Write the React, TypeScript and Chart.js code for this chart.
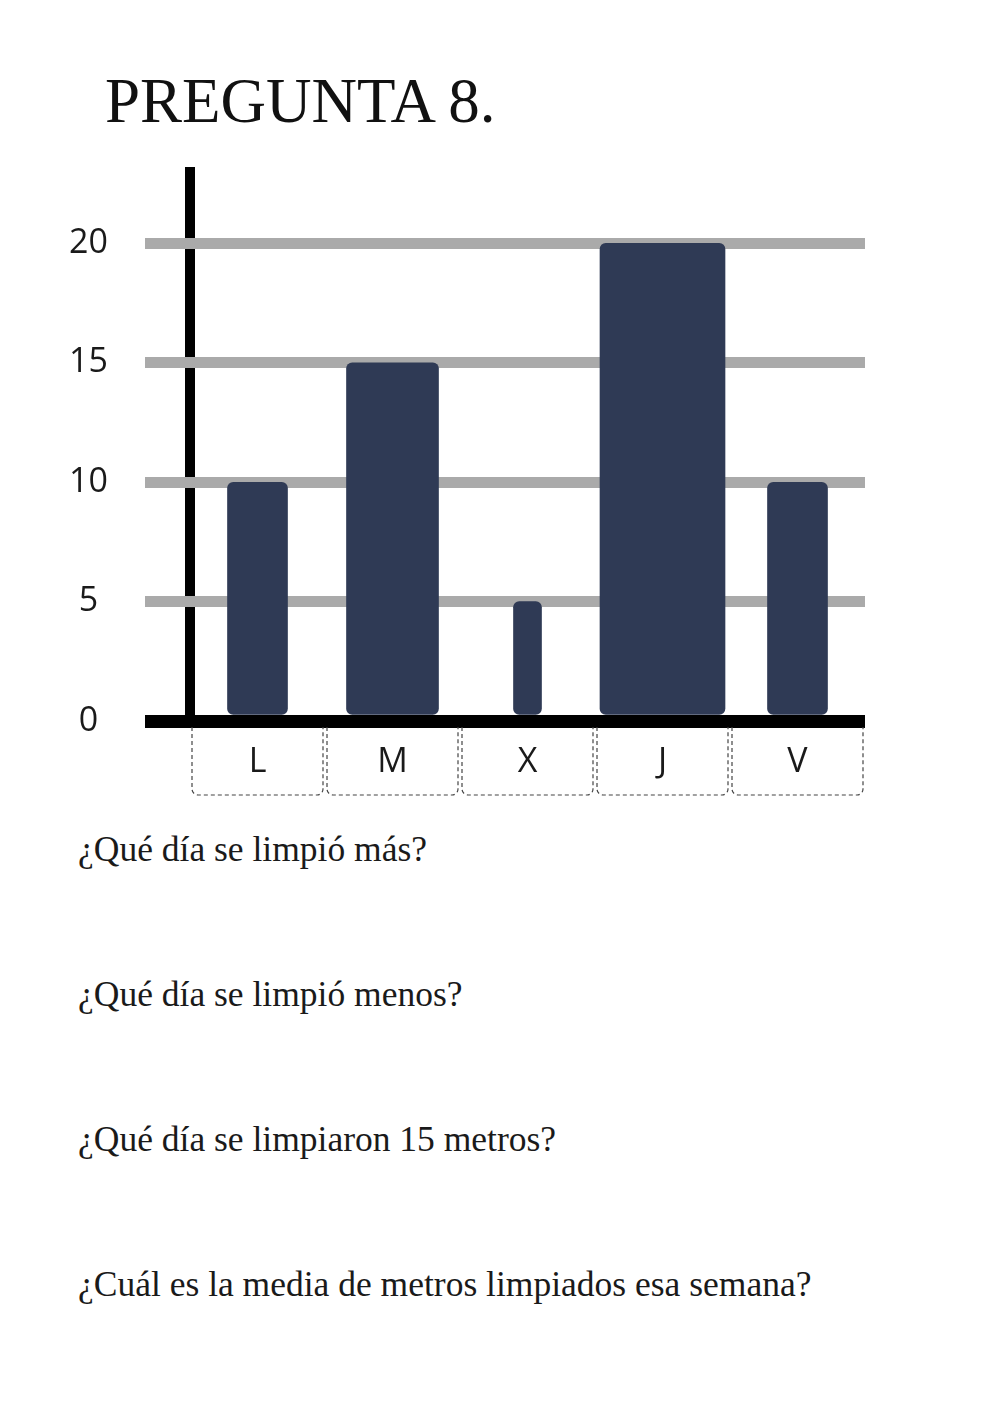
import React, { useEffect, useRef } from 'react';
import { Chart, registerables } from 'chart.js';

Chart.register(...registerables);

// chart data
const DAYS = ['L', 'M', 'X', 'J', 'V'];
const METERS = [10, 15, 5, 20, 10];
const Y_TICKS = [0, 5, 10, 15, 20];

const QUESTIONS = [
  '¿Qué día se limpió más?',
  '¿Qué día se limpió menos?',
  '¿Qué día se limpiaron 15 metros?',
  '¿Cuál es la media de metros limpiados esa semana?',
];

// styling
const NAVY = '#2f3a55';
const GRID_GRAY = '#aaaaaa';
const BAR_WIDTHS = [60, 92, 28, 125, 60]; // the bars are drawn at uneven widths
const SERIF = '"Liberation Serif", "DejaVu Serif", serif';

// dashed boxes under each day label
const dashedBoxes = {
  id: 'dashedBoxes',
  afterDraw(chart: Chart) {
    const { ctx, chartArea } = chart;
    const x = chart.scales.x;
    const n = x.ticks.length;
    const w = (chartArea.right - chartArea.left) / n;
    const top = chartArea.bottom + 6;
    const bottom = chartArea.bottom + 74;
    const r = 6;
    ctx.save();
    ctx.setLineDash([4, 3]);
    ctx.lineWidth = 1.2;
    ctx.strokeStyle = '#444';
    for (let i = 0; i < n; i++) {
      const cx = x.getPixelForValue(i);
      const l = cx - w / 2 + 2;
      const rr = cx + w / 2 - 2;
      ctx.beginPath();
      ctx.moveTo(l, top);
      ctx.lineTo(l, bottom - r);
      ctx.arcTo(l, bottom, l + r, bottom, r);
      ctx.lineTo(rr - r, bottom);
      ctx.arcTo(rr, bottom, rr, bottom - r, r);
      ctx.lineTo(rr, top);
      ctx.stroke();
    }
    ctx.restore();
  },
};

const MetersChart: React.FC = () => {
  const canvasRef = useRef<HTMLCanvasElement>(null);

  useEffect(() => {
    if (!canvasRef.current) return;

    const datasets = DAYS.map((day, i) => ({
      label: day,
      data: METERS.map((v, j) => (j === i ? v : null)),
      backgroundColor: NAVY,
      borderRadius: 6,
      borderSkipped: false,
      barThickness: BAR_WIDTHS[i],
      grouped: false,
    }));

    const chart = new Chart(canvasRef.current, {
      type: 'bar',
      data: { labels: DAYS, datasets },
      options: {
        animation: false,
        responsive: true,
        maintainAspectRatio: false,
        layout: { padding: { left: 60, right: 135, top: 67, bottom: 0 } },
        plugins: {
          legend: { display: false },
          tooltip: { enabled: false },
        },
        scales: {
          x: {
            type: 'category',
            afterFit: (scale: any) => {
              scale.height = 99;
            },
            border: { display: false },
            grid: {
              offset: true,
              z: -2,
              drawTicks: false,
              lineWidth: 10,
              color: (ctx: any) => (ctx.type === 'tick' && ctx.index === 0 ? '#000' : 'rgba(0,0,0,0)'),
            },
            ticks: {
              autoSkip: false,
              maxRotation: 0,
              padding: 21,
              color: '#1a1a1a',
              font: { family: '"Open Sans"', size: 34 },
            },
          },
          y: {
            min: 0,
            max: 23.2,
            afterFit: (scale: any) => {
              scale.width = 130;
            },
            afterBuildTicks: (scale: any) => {
              scale.ticks = Y_TICKS.map(value => ({ value }));
            },
            border: { display: false },
            grid: {
              z: -1,
              tickLength: 45,
              color: (ctx: any) => (ctx.tick && ctx.tick.value === 0 ? '#000' : GRID_GRAY),
              tickColor: (ctx: any) => (ctx.tick && ctx.tick.value === 0 ? '#000' : GRID_GRAY),
              lineWidth: (ctx: any) => (ctx.tick && ctx.tick.value === 0 ? 13 : 11),
              tickWidth: (ctx: any) => (ctx.tick && ctx.tick.value === 0 ? 13 : 11),
            },
            ticks: {
              crossAlign: 'center',
              padding: 37,
              color: '#1a1a1a',
              font: { family: '"Open Sans"', size: 34 },
            },
          },
        },
      },
      plugins: [dashedBoxes],
    });

    return () => {
      chart.destroy();
    };
  }, []);

  return <canvas ref={canvasRef} />;
};

export default function App() {
  return (
    <div style={{ position: 'absolute', left: 0, top: 0, width: 1000, height: 1413, background: '#fff', overflow: 'hidden' }}>
      <div
        style={{
          position: 'absolute',
          left: 105,
          top: 70,
          fontFamily: SERIF,
          fontSize: 63,
          lineHeight: '63px',
          color: '#111',
          whiteSpace: 'nowrap',
        }}
      >
        PREGUNTA 8.
      </div>
      <div style={{ position: 'absolute', left: 0, top: 100, width: 1000, height: 720 }}>
        <MetersChart />
      </div>
      {QUESTIONS.map((q, i) => (
        <div
          key={q}
          style={{
            position: 'absolute',
            left: 78,
            top: 832 + i * 145,
            fontFamily: SERIF,
            fontSize: 35.5,
            lineHeight: '35.5px',
            color: '#1a1a1a',
            whiteSpace: 'nowrap',
          }}
        >
          {q}
        </div>
      ))}
    </div>
  );
}
